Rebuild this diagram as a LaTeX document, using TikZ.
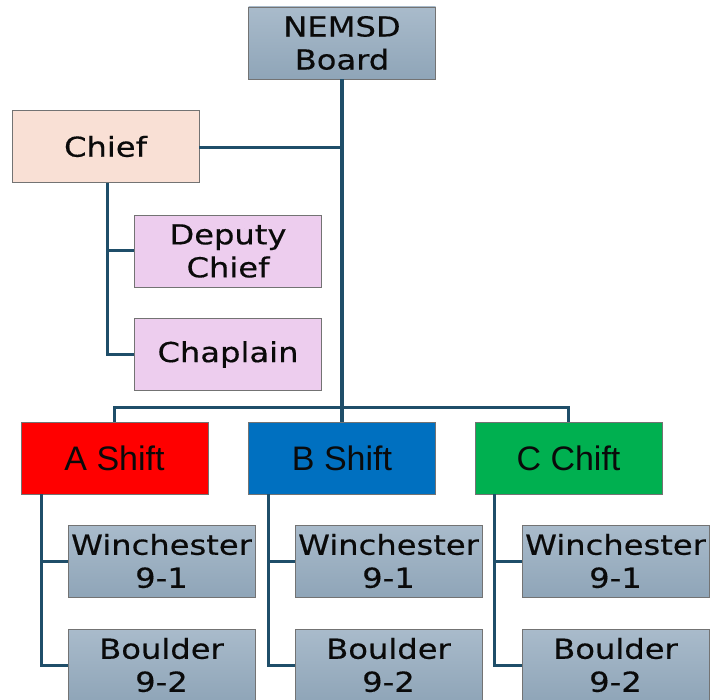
\documentclass[tikz,border=0pt]{standalone}
\usepackage{fontspec}
\newfontfamily\widefont[FakeStretch=1.17,FakeBold=0.4]{DejaVu Sans}
\newfontfamily\shiftfont{Liberation Sans}
\definecolor{linec}{HTML}{1F4E69}
\definecolor{greytop}{HTML}{A9BBCB}
\definecolor{greybot}{HTML}{8FA5B8}
\definecolor{chiefc}{HTML}{F9E0D5}
\definecolor{pinkc}{HTML}{EDCDEE}
\definecolor{redc}{HTML}{FF0000}
\definecolor{bluec}{HTML}{0070C0}
\definecolor{greenc}{HTML}{00B050}
\definecolor{txt}{HTML}{0A0A0A}
\tikzset{
  box/.style={draw=black!55, line width=0.8pt, minimum width=187pt, minimum height=72pt,
    inner sep=0pt, align=center, text=txt, font=\widefont\fontsize{27.5}{33}\selectfont},
  greybox/.style={box, top color=greytop, bottom color=greybot},
  shiftbox/.style={box, font=\shiftfont\fontsize{34}{38}\selectfont},
  conn/.style={draw=linec, line width=3pt},
  thick conn/.style={draw=linec, line width=3.8pt}
}
\begin{document}
\begin{tikzpicture}[x=1pt,y=-1pt]
\useasboundingbox (0,0) rectangle (712,700);
\node[greybox] (board) at (342,43) {NEMSD\\Board};
\node[box, fill=chiefc] (chief) at (105.5,146.5) {Chief};
\node[box, fill=pinkc] (deputy) at (228,251) {Deputy\\Chief};
\node[box, fill=pinkc] (chaplain) at (228,354.5) {Chaplain};
\node[shiftbox, fill=redc] (ashift) at (114.5,458) {A Shift};
\node[shiftbox, fill=bluec] (bshift) at (342,458) {B Shift};
\node[shiftbox, fill=greenc] (cshift) at (568.5,458) {C Chift};
\node[greybox] (wa) at (161.5,561) {Winchester\\9-1};
\node[greybox] (ba) at (161.5,665) {Boulder\\9-2};
\node[greybox] (wb) at (388.5,561) {Winchester\\9-1};
\node[greybox] (bb) at (388.5,665) {Boulder\\9-2};
\node[greybox] (wc) at (615.5,561) {Winchester\\9-1};
\node[greybox] (bc) at (615.5,665) {Boulder\\9-2};
% coordinates
\coordinate (bus) at (342,407);
\coordinate (chiefjoin) at (342,148);
% board trunk
\draw[thick conn] (board.south) -- (bshift.north);
\draw[conn] (chief.east |- chiefjoin) -- (chiefjoin);
\draw[conn] (ashift.north) |- (bus) -| (cshift.north);
% chief subtree
\coordinate (cv) at (107,0);
\draw[conn] (cv |- chief.south) |- (chaplain.west);
\draw[conn] (cv |- deputy.west) -- (deputy.west);
% shift subtrees
\coordinate (av) at (41,0);
\coordinate (bv) at (268,0);
\coordinate (ccv) at (494,0);
\draw[conn] (av |- ashift.south) |- (ba.west);
\draw[conn] (av |- wa.west) -- (wa.west);
\draw[conn] (bv |- bshift.south) |- (bb.west);
\draw[conn] (bv |- wb.west) -- (wb.west);
\draw[conn] (ccv |- cshift.south) |- (bc.west);
\draw[conn] (ccv |- wc.west) -- (wc.west);
\end{tikzpicture}
\end{document}
